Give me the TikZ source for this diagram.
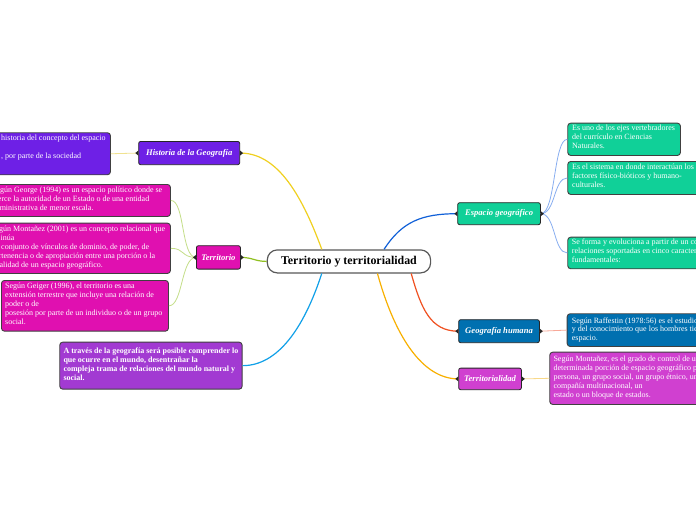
\documentclass[tikz,border=0pt]{standalone}
\usepackage{fontspec}
\setmainfont{Liberation Serif}
\definecolor{cHist}{HTML}{6E20E6}
\definecolor{cTerr}{HTML}{E010B0}
\definecolor{cAt}{HTML}{A23AD2}
\definecolor{cEsp}{HTML}{10D098}
\definecolor{cGeo}{HTML}{0070B0}
\definecolor{cTerd}{HTML}{D040D0}
\definecolor{lYel}{HTML}{F0D020}
\definecolor{lGrn}{HTML}{90C020}
\definecolor{lSky}{HTML}{10A0E8}
\definecolor{lBlu}{HTML}{1060D8}
\definecolor{lRed}{HTML}{F05020}
\definecolor{lOra}{HTML}{F8B000}
\definecolor{pYel}{HTML}{F0E290}
\definecolor{pGrn}{HTML}{C4DE88}
\definecolor{pBlu}{HTML}{88AEF0}
\definecolor{pRed}{HTML}{F8A898}
\definecolor{pOra}{HTML}{F8D888}
\begin{document}
\begin{tikzpicture}[x=1pt,y=-1pt,
  box/.style={draw=black!75, line width=0.9pt, rounded corners=3pt, anchor=north west, inner sep=0pt},
  txt/.style={anchor=north west, inner sep=0pt, align=left, text=white, font=\fontsize{8}{8.9}\selectfont, execute at begin node=\strut},
  titlebox/.style={draw=black!85, line width=0.8pt, rounded corners=2pt, text=white, font=\fontsize{8.6}{10}\selectfont\bfseries\itshape, inner sep=0pt, anchor=north west},
  mainline/.style={line width=1.2pt},
  subline/.style={line width=0.8pt},
  tri/.style={fill=black!85}]
\useasboundingbox (0,0) rectangle (696,520);
\fill[white] (0,0) rectangle (696,520);
\clip (0,0) rectangle (696,520);

% central
\node[draw=black!65, line width=1.2pt, rounded corners=10pt, fill=white, anchor=north west, inner sep=0pt,
      minimum width=163.3, minimum height=23, font=\fontsize{11.9}{13}\selectfont\bfseries] (central) at (266.7,249.3) {Territorio y territorialidad};

% title nodes
\node[titlebox, fill=cHist, minimum width=101, minimum height=23.3] (hist) at (138.3,141) {Historia de la Geografía};
\node[titlebox, fill=cTerr, minimum width=44, minimum height=23.4] (terr) at (196,245.3) {Territorio};
\node[titlebox, fill=cEsp, minimum width=82.7, minimum height=22] (esp) at (457.3,202.3) {Espacio geográfico};
\node[titlebox, fill=cGeo, minimum width=80.7, minimum height=23] (geoh) at (458.3,319.3) {Geografía humana};
\node[titlebox, fill=cTerd, minimum width=62.7, minimum height=21.6] (terd) at (458.3,367.7) {Territorialidad};

% content boxes
\node[box, fill=cHist, minimum width=120, minimum height=42] (hc) at (-10,132.3) {};
\node[box, fill=cTerr, minimum width=180, minimum height=32] (tc1) at (-10,184) {};
\node[box, fill=cTerr, minimum width=180, minimum height=50.3] (tc2) at (-10,222.7) {};
\node[box, fill=cTerr, minimum width=167, minimum height=50.7] (tc3) at (1,280) {};
\node[box, fill=cAt, minimum width=182.4, minimum height=47] (at) at (59.3,341.7) {};
\node[box, fill=cEsp, minimum width=112.7, minimum height=32.3] (g1) at (567.3,122.7) {};
\node[box, fill=cEsp, minimum width=150, minimum height=33] (g2) at (567.3,161) {};
\node[box, fill=cEsp, minimum width=150, minimum height=31.6] (g3) at (567.3,236.7) {};
\node[box, fill=cGeo, minimum width=150, minimum height=32.7] (raff) at (566.7,313.3) {};
\node[box, fill=cTerd, minimum width=160, minimum height=52.3] (mont) at (549.3,351.7) {};

% texts
\node[txt] (hct) at (1,135.2) {historia del concepto del espacio\\[8.9pt], por parte de la sociedad};
\node[txt] (tc1t) at (-8,187.2) {Según George (1994) es un espacio político donde se\\ejerce la autoridad de un Estado o de una entidad\\administrativa de menor escala.};
\node[txt] (tc2t) at (-9,226.2) {Según Montañez (2001) es un concepto relacional que\\insinúa\\un conjunto de vínculos de dominio, de poder, de\\pertenencia o de apropiación entre una porción o la\\totalidad de un espacio geográfico.};
\node[txt] (tc3t) at (5,283.2) {Según Geiger (1996), el territorio es una\\extensión terrestre que incluye una relación de\\poder o de\\posesión por parte de un individuo o de un grupo\\social.};
\node[txt, font=\fontsize{8}{8.9}\selectfont\bfseries] (att) at (63.3,347.8) {A través de la geografía será posible comprender lo\\que ocurre en el mundo, desentrañar la\\compleja trama de relaciones del mundo natural y\\social.};
\node[txt] (g1t) at (572,124.8) {Es uno de los ejes vertebradores\\del currículo en Ciencias\\Naturales.};
\node[txt] (g2t) at (572,163.8) {Es el sistema en donde interactúan los\\factores físico-bióticos y humano-\\culturales.};
\node[txt] (g3t) at (571.7,238.8) {Se forma y evoluciona a partir de un conjunto de\\relaciones soportadas en cinco características\\fundamentales:};
\node[txt] (rafft) at (571.7,317.2) {Según Raffestin (1978:56) es el estudio\\y del conocimiento que los hombres tienen del\\espacio.};
\node[txt] (montt) at (553.3,356.2) {Según Montañez, es el grado de control de una\\determinada porción de espacio geográfico por una\\persona, un grupo social, un grupo étnico, una\\compañía multinacional, un\\estado o un bloque de estados.};

% main connectors
\begin{scope}[on background layer/.style={}]
\draw[mainline, lYel] (central.156) .. controls +(-22,-60) and +(35,0) .. (hist.east);
\draw[mainline, lGrn] (central.west) .. controls +(-12,0) and +(12,0) .. (terr.east);
\draw[mainline, lSky] (central.-156) .. controls +(-18,55) and +(35,0) .. (at.east);
\draw[mainline, lBlu] (central.19) .. controls +(18,-28) and +(-35,0) .. (esp.west);
\draw[mainline, lRed] (central.-11.5) .. controls +(10,35) and +(-28,0) .. (geoh.west);
\draw[mainline, lOra] (central.-23.3) .. controls +(18,65) and +(-35,0) .. (terd.west);
\end{scope}

% sub connectors
\draw[subline, pYel] (hist.west) -- (hc.east);
\draw[subline, pGrn] (terr.west) .. controls +(-15,0) and +(14,0) .. (tc1.east);
\draw[subline, pGrn] (terr.west) .. controls +(-15,0) and +(14,0) .. (tc2.east);
\draw[subline, pGrn] (terr.west) .. controls +(-15,0) and +(14,0) .. (tc3.east);
\draw[subline, pBlu] (esp.east) .. controls +(15,0) and +(-14,0) .. (g1.west);
\draw[subline, pBlu] (esp.east) .. controls +(15,0) and +(-14,0) .. (g2.west);
\draw[subline, pBlu] (esp.east) .. controls +(15,0) and +(-14,0) .. (g3.west);
\draw[subline, pRed] (geoh.east) -- (raff.west);
\draw[subline, pOra] (terd.east) -- (mont.west);

% small markers
\foreach \n in {hist,terr,esp,geoh,terd}{
  \fill[tri] ([yshift=-2.5pt]\n.east) -- ([yshift=2.5pt]\n.east) -- ([xshift=3pt]\n.east) -- cycle;
  \fill[tri] ([yshift=-2.5pt]\n.west) -- ([yshift=2.5pt]\n.west) -- ([xshift=-3pt]\n.west) -- cycle;
}
\end{tikzpicture}
\end{document}
